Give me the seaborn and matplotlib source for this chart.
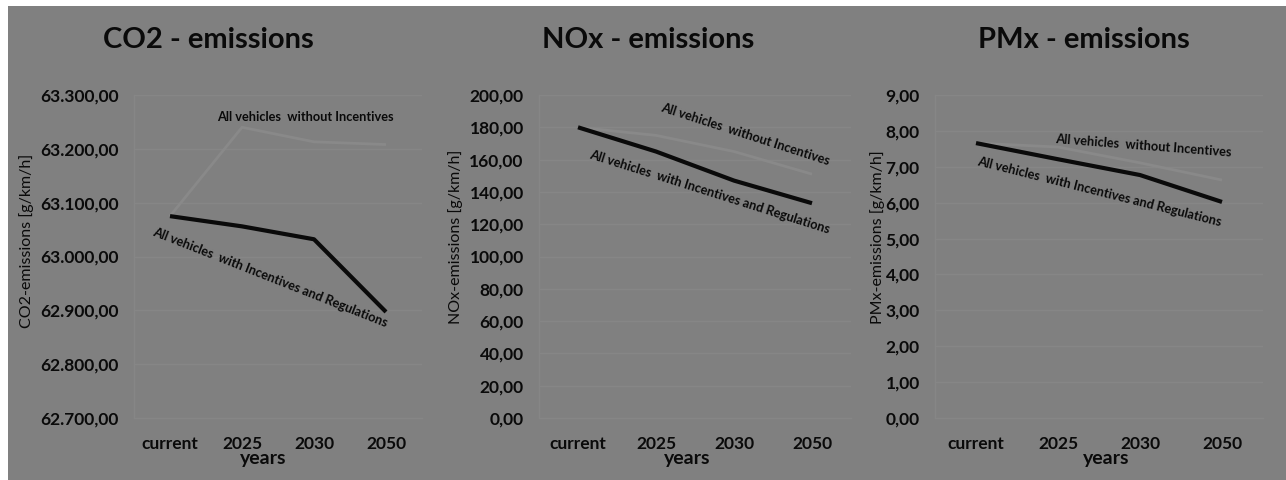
import numpy as np
import pandas as pd
import matplotlib
matplotlib.use("Agg")
import matplotlib.pyplot as plt
import seaborn as sns
from matplotlib.patches import Rectangle
from matplotlib.ticker import FuncFormatter, FixedLocator

# ---------------- data ----------------
categories = ["current", "2025", "2030", "2050"]
co2_without = [63075, 63240, 63213, 63208]
co2_with = [63075, 63056, 63032, 62897]
nox_without = [180, 175, 165, 151]
nox_with = [180, 165, 147, 133]
pmx_without = [7.66, 7.55, 7.11, 6.63]
pmx_with = [7.66, 7.21, 6.77, 6.02]

co2_ticks = [62700, 62800, 62900, 63000, 63100, 63200, 63300]
nox_ticks = [0, 20, 40, 60, 80, 100, 120, 140, 160, 180, 200]
pmx_ticks = [0, 1, 2, 3, 4, 5, 6, 7, 8, 9]

titles = ["CO2 - emissions", "NOx - emissions", "PMx - emissions"]
ylabels = ["CO2-emissions [g/km/h]", "NOx-emissions [g/km/h]", "PMx-emissions [g/km/h]"]
xlabel = "years"
label_without = "All vehicles  without Incentives"
label_with = "All vehicles  with Incentives and Regulations"

# ---------------- style ----------------
BG = "#808080"
GRID = "#868686"
GRAYLINE = "#898989"
INK = "#0a0a0a"

sns.set_theme(style="white")
plt.rcParams["font.family"] = ["Lato", "DejaVu Sans"]

W, H = 1286, 480
fig = plt.figure(figsize=(W / 100, H / 100), dpi=100, facecolor="white")
fig.patches.append(Rectangle((8 / W, 0), 1 - 8 / W, 1 - 6 / H, transform=fig.transFigure,
                             facecolor=BG, edgecolor="none", zorder=-10))

def px_axes(left, right, top, bottom):
    return [left / W, 1 - bottom / H, (right - left) / W, (bottom - top) / H]

panels = [
    dict(rect=px_axes(134, 422, 95, 418), without=co2_without, with_=co2_with,
         ticks=co2_ticks, title_x=0.257, ylab=(-0.372, 0.548), xlab=(0.448, -0.124),
         w_pos=(0.653, 63252, 0), r_pos=(-0.25, 63039, -21.5)),
    dict(rect=px_axes(539, 851, 95, 418), without=nox_without, with_=nox_with,
         ticks=nox_ticks, title_x=0.349, ylab=(-0.269, 0.56), xlab=(0.474, -0.124),
         w_pos=(1.05, 190.1, -17.9), r_pos=(0.141, 161, -17.5)),
    dict(rect=px_axes(935, 1263, 95, 418), without=pmx_without, with_=pmx_with,
         ticks=pmx_ticks, title_x=0.454, ylab=(-0.174, 0.56), xlab=(0.521, -0.124),
         w_pos=(0.963, 7.66, -4.4), r_pos=(0.012, 7.05, -14.1)),
]


def de_fmt(v, pos):
    s = f"{v:,.2f}"
    return s.replace(",", "X").replace(".", ",").replace("X", ".")


for i, p in enumerate(panels):
    ax = fig.add_axes(p["rect"])
    ax.set_facecolor("none")
    df = pd.DataFrame({
        "year": categories * 2,
        "value": list(p["without"]) + list(p["with_"]),
        "series": [label_without] * 4 + [label_with] * 4,
    })
    sns.lineplot(data=df[df.series == label_without], x="year", y="value", ax=ax,
                 color=GRAYLINE, linewidth=2.0, sort=False, legend=False, zorder=3,
                 solid_capstyle="butt")
    sns.lineplot(data=df[df.series == label_with], x="year", y="value", ax=ax,
                 color=INK, linewidth=3.0, sort=False, legend=False, zorder=4,
                 solid_capstyle="butt")

    ax.set_xlim(-0.5, 3.5)
    ax.set_ylim(p["ticks"][0], p["ticks"][-1])
    ax.yaxis.set_major_locator(FixedLocator(p["ticks"]))
    ax.yaxis.set_major_formatter(FuncFormatter(de_fmt))
    ax.set_xticks(range(len(categories)))
    ax.set_xticklabels(categories)
    ax.set_xticks([-0.5, 0.5, 1.5, 2.5, 3.5], minor=True)

    ax.grid(axis="y", color=GRID, linewidth=1.0)
    ax.grid(axis="x", visible=False)
    for s in ["top", "right"]:
        ax.spines[s].set_visible(False)
    for s in ["left", "bottom"]:
        ax.spines[s].set_color(GRID)
        ax.spines[s].set_linewidth(1.0)

    ax.tick_params(axis="y", which="both", length=0, pad=11, labelsize=12.5,
                   labelcolor=INK)
    ax.tick_params(axis="x", which="major", length=0, pad=13, labelsize=12.5,
                   labelcolor=INK)
    ax.tick_params(axis="x", which="minor", length=4, width=1, color=GRID,
                   direction="out")
    for lab in ax.get_yticklabels() + ax.get_xticklabels():
        lab.set_fontweight("bold")

    ax.set_ylabel(ylabels[i], fontsize=11.5, color=INK)
    ax.yaxis.set_label_coords(*p["ylab"])
    ax.yaxis.label.set_verticalalignment("center")
    ax.set_xlabel(xlabel, fontsize=14, fontweight="bold", color=INK)
    ax.xaxis.set_label_coords(*p["xlab"])
    ax.xaxis.label.set_verticalalignment("center")

    ax.text(p["title_x"], 1 + 47 / 323, titles[i], transform=ax.transAxes,
            ha="center", va="baseline", fontsize=21, fontweight="bold", color=INK)

    wx, wy, wr = p["w_pos"]
    ax.text(wx, wy, label_without, ha="left", va="baseline", rotation=wr,
            rotation_mode="anchor", fontsize=9.2, fontweight="bold", color=INK,
            zorder=5)
    rx, ry, rr = p["r_pos"]
    ax.text(rx, ry, label_with, ha="left", va="baseline", rotation=rr,
            rotation_mode="anchor", fontsize=9.2, fontweight="bold", color=INK,
            zorder=5)

fig.savefig("out.png", dpi=100, facecolor="white")
